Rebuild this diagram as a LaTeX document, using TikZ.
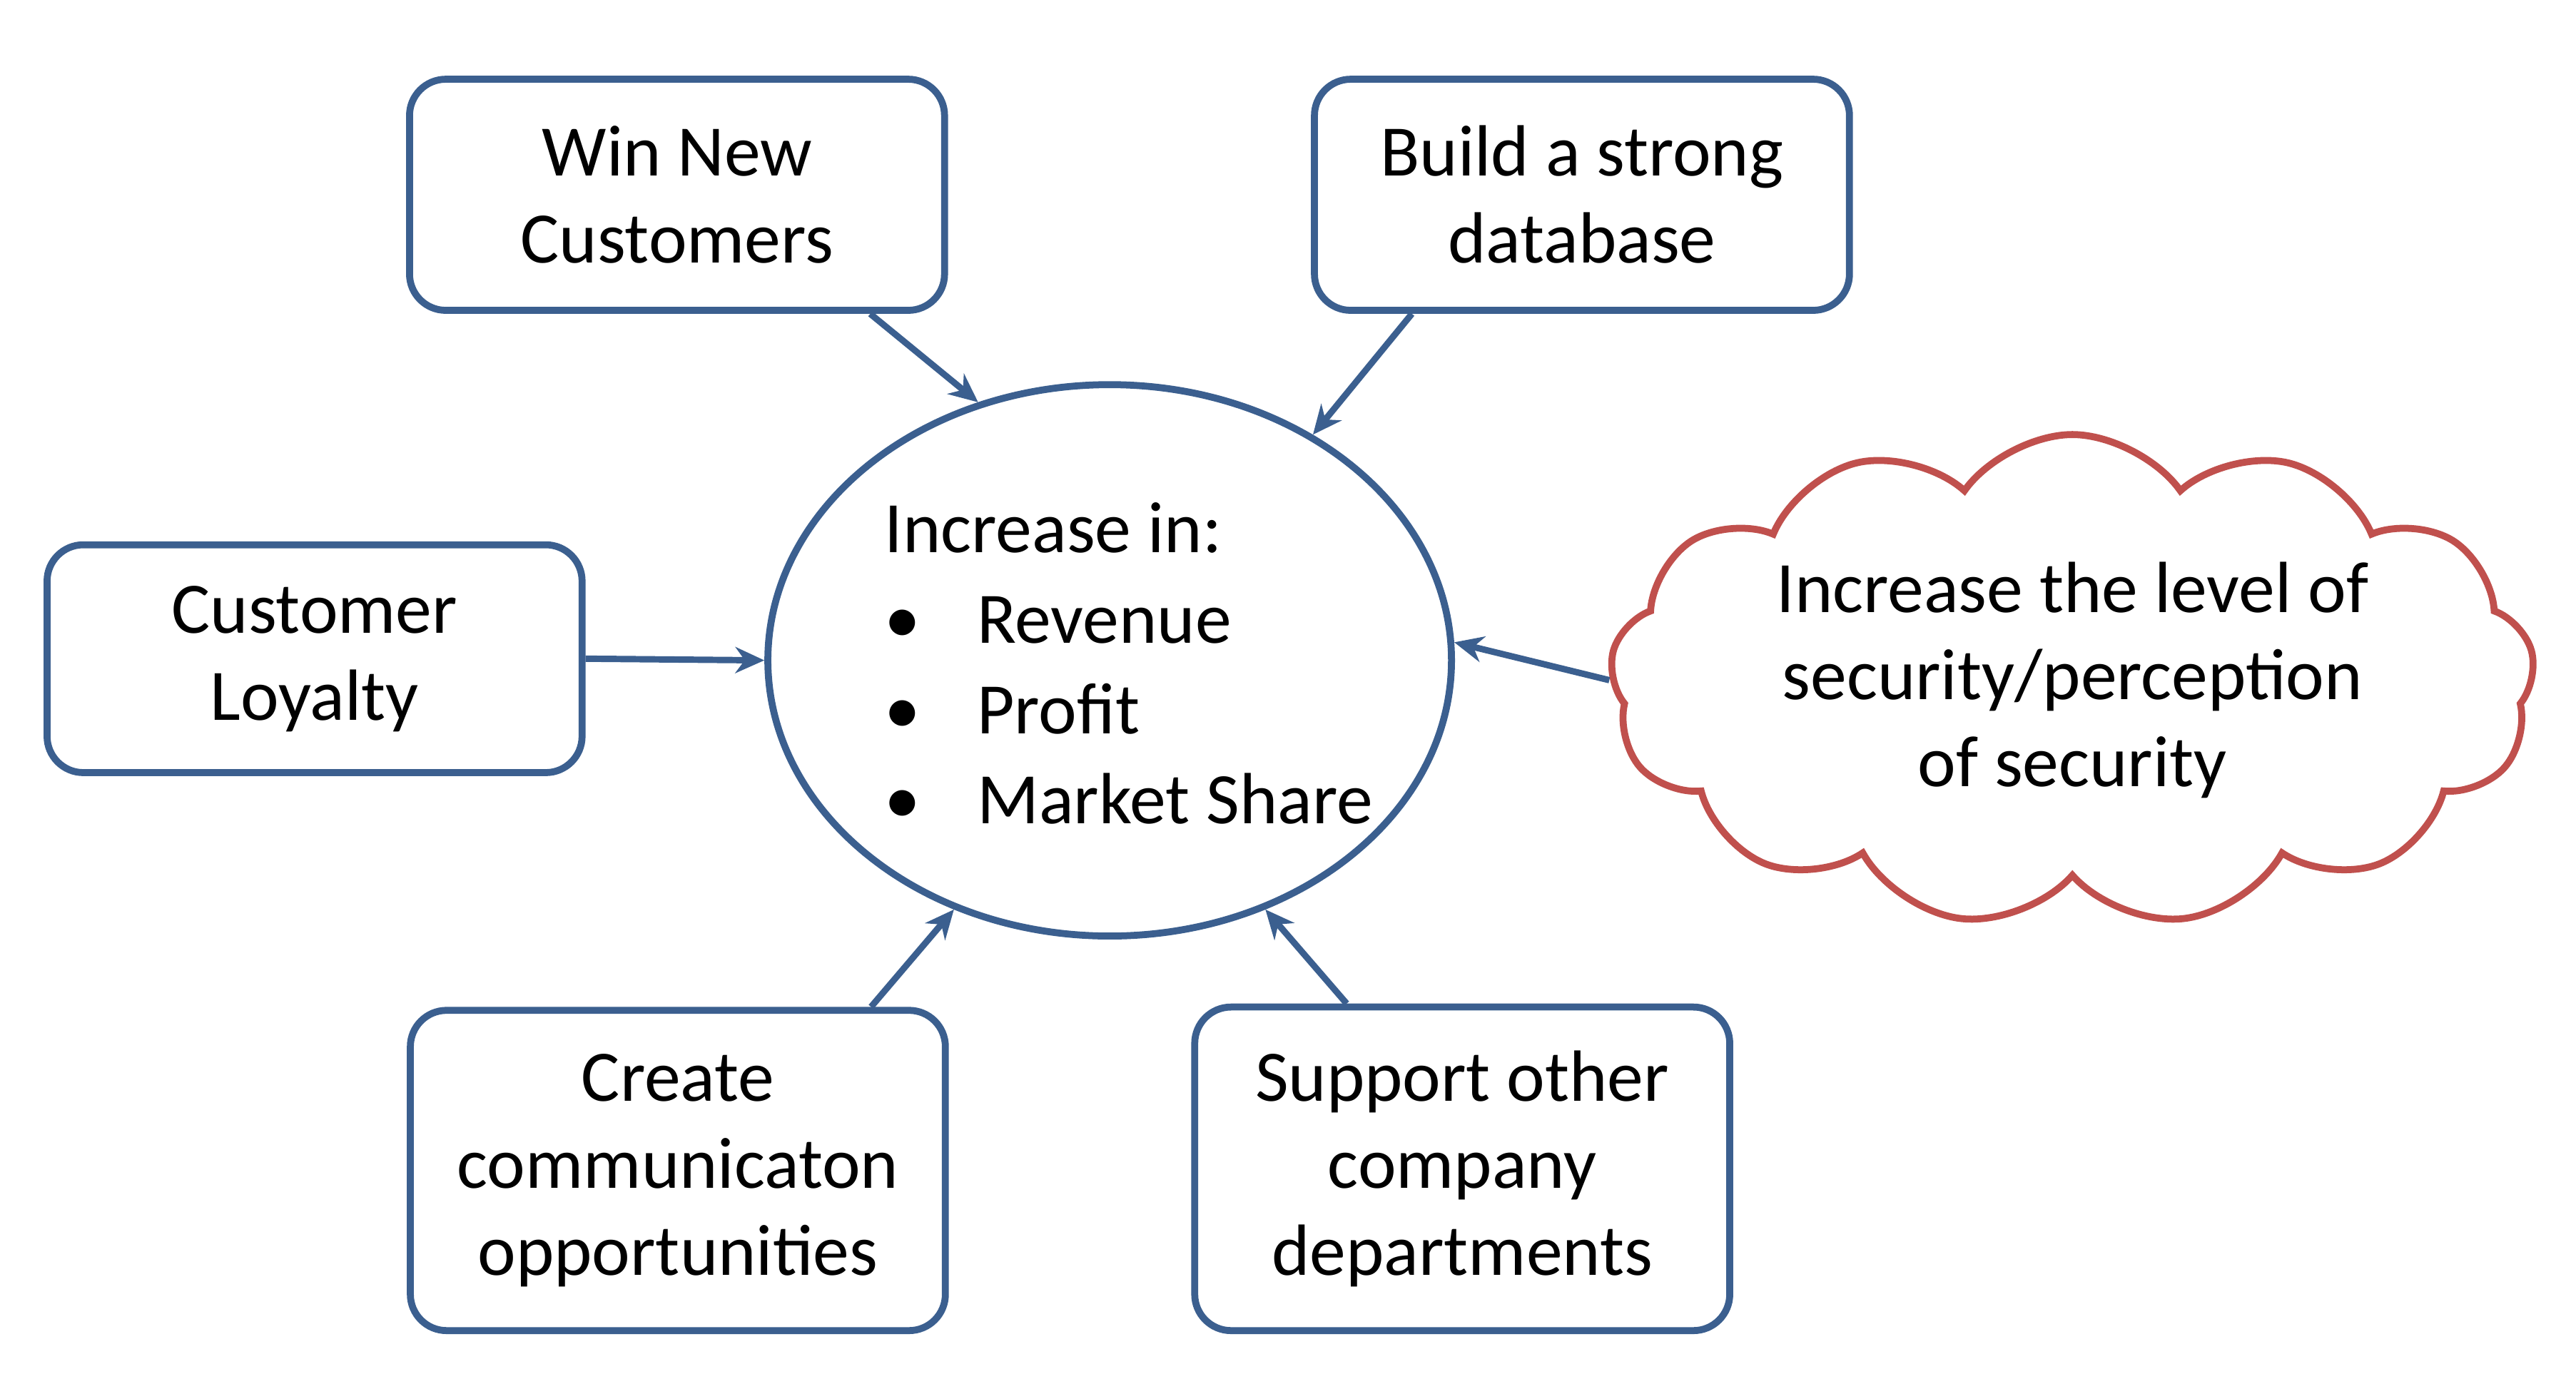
\documentclass[tikz,border=0pt]{standalone}
\usepackage{fontspec}
\setmainfont{Carlito}
\usetikzlibrary{shapes.geometric,shapes.symbols,arrows.meta,calc}
\definecolor{bl}{HTML}{3B5F8F}
\definecolor{rd}{HTML}{C0504D}
\begin{document}
\begin{tikzpicture}[
  box/.style={draw=bl,line width=1.2pt,rounded corners=0.22cm,minimum width=3.24cm,align=center,font=\fontsize{12.5}{15}\selectfont},
  arr/.style={draw=bl,line width=1.1pt,-{Stealth[length=5pt,width=4.5pt]}}]
\useasboundingbox (0,0) rectangle (15.6,-8.32);
\node[box,minimum height=1.4cm] (win) at (4.10,-1.18) {Win New\\Customers};
\node[box,minimum height=1.4cm] (db) at (9.58,-1.18) {Build a strong\\database};
\node[box,minimum height=1.38cm] (loy) at (1.905,-3.99) {Customer\\Loyalty};
\node[box,minimum height=1.94cm] (cre) at (4.105,-7.09) {Create\\communicaton\\opportunities};
\node[box,minimum height=1.96cm] (sup) at (8.855,-7.08) {Support other\\company\\departments};
\node[draw=bl,line width=1.2pt,ellipse,minimum width=4.14cm,minimum height=3.34cm,inner sep=0pt] (ell) at (6.72,-4.00) {};
\node[font=\fontsize{12.5}{15}\selectfont,anchor=north west,inner sep=0pt] (txt) at (5.35,-2.97) {%
\begin{tabular}{@{}p{0.56cm}@{}l@{}}
\multicolumn{2}{@{}l}{Increase in:}\\[0.6pt]
\textbullet & Revenue\\[0.6pt]
\textbullet & Profit\\[0.6pt]
\textbullet & Market Share
\end{tabular}};
\node[cloud,draw=rd,line width=1.2pt,cloud puffs=13,cloud puff arc=110,aspect=2.1,minimum width=5.6cm,minimum height=2.55cm,inner sep=0pt,align=center,font=\fontsize{12.5}{15}\selectfont] (cl) at (12.55,-4.12) {Increase the level of\\security/perception\\of security};
\draw[arr] ([xshift=1.17cm]win.south) -- (ell.117);
\draw[arr] ([xshift=-1.03cm]db.south) -- (ell.48);
\draw[arr] (loy.east) -- (ell.180);
\draw[arr] (cl.west) -- (ell.3);
\draw[arr] ([xshift=1.17cm]cre.north) -- (ell.238);
\draw[arr] ([xshift=-0.70cm]sup.north) -- (ell.302);
\end{tikzpicture}
\end{document}
